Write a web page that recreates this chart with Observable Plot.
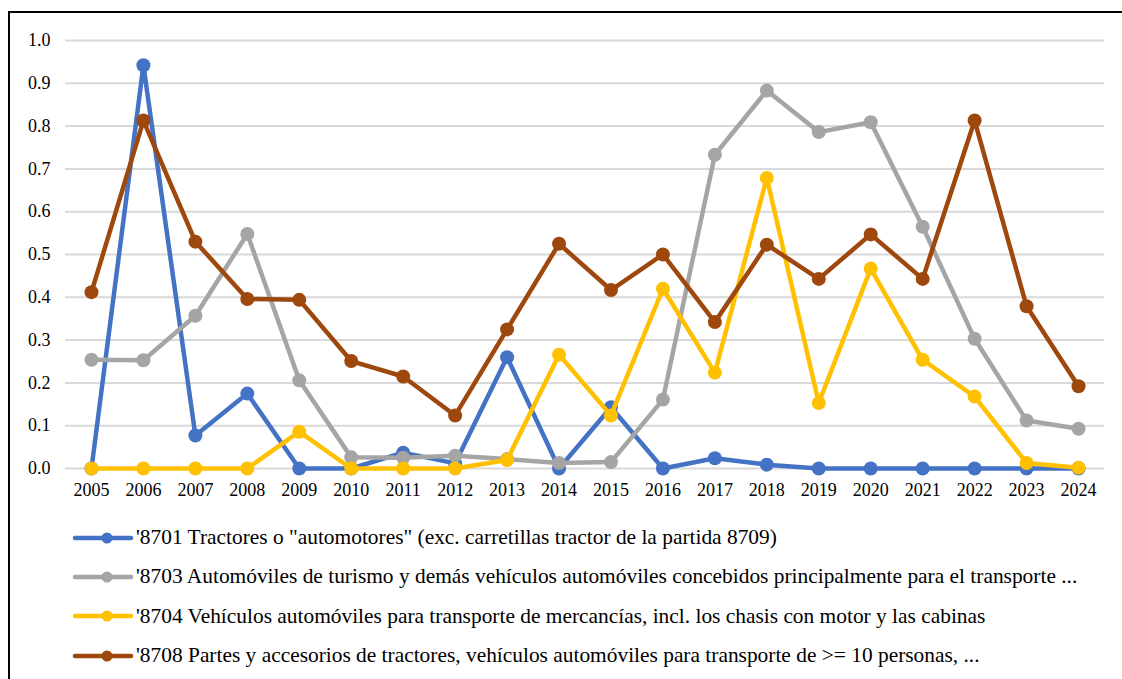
<!DOCTYPE html>
<html>
<head>
<meta charset="utf-8">
<script src="https://cdn.jsdelivr.net/npm/d3@7"></script>
<script src="https://cdn.jsdelivr.net/npm/@observablehq/plot@0.6"></script>
<style>
  html, body { margin: 0; padding: 0; background: #fff; overflow: hidden; }
  body { width: 1122px; height: 679px; position: relative; font-family: 'Liberation Serif', serif; }
  #frame { position: absolute; left: 8px; top: 11px; width: 1200px; height: 800px; border: 2px solid #000; box-sizing: border-box; }
  #chart { position: absolute; left: 0; top: 0; }
  #legend { position: absolute; left: 72px; top: 518px; }
  .item { display: flex; align-items: center; height: 39.3px; color: #000; white-space: nowrap; }
  .item svg { margin-right: 2px; }
</style>
</head>
<body>
<div id="frame"></div>
<div id="chart"></div>
<div id="legend"></div>
<script>
const years = [2005, 2006, 2007, 2008, 2009, 2010, 2011, 2012, 2013, 2014, 2015, 2016, 2017, 2018, 2019, 2020, 2021, 2022, 2023, 2024];

const s8701 = [0.000, 0.942, 0.077, 0.175, 0.000, 0.000, 0.037, 0.012, 0.260, 0.000, 0.143, 0.000, 0.024, 0.009, 0.000, 0.000, 0.000, 0.000, 0.000, 0.000];
const s8703 = [0.254, 0.253, 0.357, 0.548, 0.206, 0.026, 0.025, 0.030, 0.022, 0.013, 0.015, 0.161, 0.733, 0.883, 0.786, 0.809, 0.565, 0.303, 0.112, 0.093];
const s8704 = [0.000, 0.000, 0.000, 0.000, 0.086, 0.000, 0.000, 0.000, 0.020, 0.266, 0.124, 0.420, 0.224, 0.679, 0.153, 0.467, 0.254, 0.168, 0.013, 0.002];
const s8708 = [0.412, 0.813, 0.530, 0.396, 0.394, 0.251, 0.215, 0.124, 0.325, 0.525, 0.417, 0.500, 0.342, 0.523, 0.443, 0.547, 0.443, 0.813, 0.379, 0.192];

const seriesNames = [
  "'8701 Tractores o \"automotores\" (exc. carretillas tractor de la partida 8709)",
  "'8703 Automóviles de turismo y demás vehículos automóviles concebidos principalmente para el transporte ...",
  "'8704 Vehículos automóviles para transporte de mercancías, incl. los chasis con motor y las cabinas",
  "'8708 Partes y accesorios de tractores, vehículos automóviles para transporte de >= 10 personas, ..."
];
const seriesValues = [s8701, s8703, s8704, s8708];
const seriesColors = ["#4472C4", "#A5A5A5", "#FFC000", "#9E480E"];
const yTicks = [0, 0.1, 0.2, 0.3, 0.4, 0.5, 0.6, 0.7, 0.8, 0.9, 1.0];

const marks = [
  Plot.ruleY(yTicks, {stroke: "#d9d9d9", strokeWidth: 2})
];
seriesValues.forEach((vals, i) => {
  const data = years.map((yr, j) => ({year: yr, value: vals[j]}));
  marks.push(Plot.line(data, {x: "year", y: "value", stroke: seriesColors[i], strokeWidth: 4.5, strokeLinejoin: "round", strokeLinecap: "round"}));
  marks.push(Plot.dot(data, {x: "year", y: "value", r: 7, fill: seriesColors[i], stroke: "none"}));
});

const chart = Plot.plot({
  width: 1122,
  height: 510,
  marginTop: 40,
  marginBottom: 42,
  marginLeft: 65,
  marginRight: 18,
  style: "font-family: 'Liberation Serif', serif; font-size: 18px; color: #000; background: transparent;",
  x: {type: "linear", domain: [years[0] - 0.5, years[years.length - 1] + 0.5], ticks: years, tickSize: 0, tickPadding: 15, tickFormat: d => String(d), label: null},
  y: {domain: [0, 1], ticks: yTicks, tickSize: 0, tickPadding: 15, tickFormat: d3.format(".1f"), label: null},
  marks
});
chart.querySelectorAll("text").forEach(t => t.setAttribute("fill", "#000"));
document.getElementById("chart").appendChild(chart);

const legend = document.getElementById("legend");
seriesNames.forEach((name, i) => {
  const item = document.createElement("div");
  item.className = "item";
  item.innerHTML = `<svg width="62" height="16"><line x1="3" y1="8" x2="59" y2="8" stroke="${seriesColors[i]}" stroke-width="4.5" stroke-linecap="round"/><circle cx="35" cy="8" r="5.5" fill="${seriesColors[i]}"/></svg><span></span>`;
  const span = item.querySelector("span");
  span.textContent = name;
  span.style.fontSize = "21.4px";
  legend.appendChild(item);
});
</script>
</body>
</html>
